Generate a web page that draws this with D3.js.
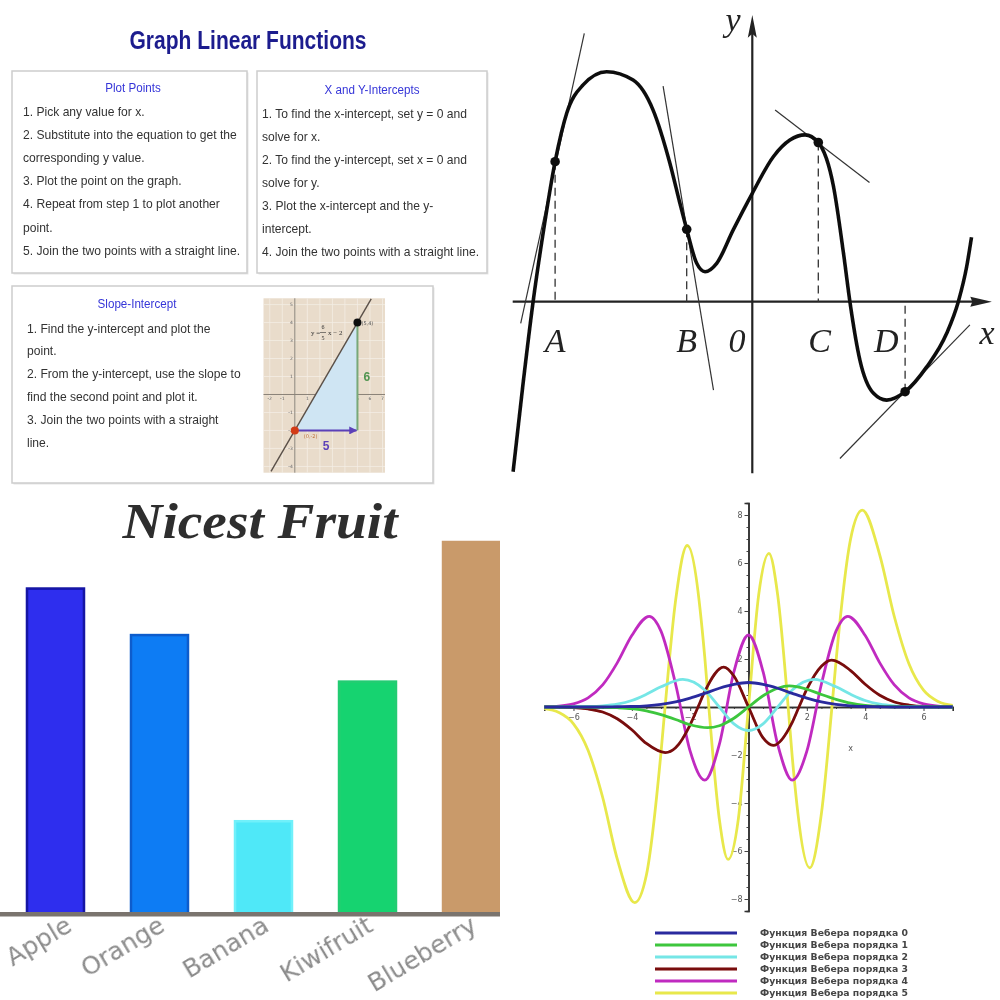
<!DOCTYPE html>
<html>
<head>
<meta charset="utf-8">
<script src="https://cdn.jsdelivr.net/npm/d3@7"></script>
<style>
  body { margin: 0; background: #fff; }
  svg { display: block; }
</style>
</head>
<body>
<svg id="chart" width="1000" height="1000"></svg>
<script>
// ---------- data: top-left infographic ----------
const infoTitle = "Graph Linear Functions";
const boxHeadings = ["Plot Points", "X and Y-Intercepts", "Slope-Intercept"];
const plotPointsLines = [
  "1. Pick any value for x.",
  "2. Substitute into the equation to get the",
  "corresponding y value.",
  "3. Plot the point on the graph.",
  "4. Repeat from step 1 to plot another",
  "point.",
  "5. Join the two points with a straight line."
];
const interceptLines = [
  "1. To find the x-intercept, set y = 0 and",
  "solve for x.",
  "2. To find the y-intercept, set x = 0 and",
  "solve for y.",
  "3. Plot the x-intercept and the y-",
  "intercept.",
  "4. Join the two points with a straight line."
];
const slopeLines = [
  "1. Find the y-intercept and plot the",
  "point.",
  "2. From the y-intercept, use the slope to",
  "find the second point and plot it.",
  "3. Join the two points with a straight",
  "line."
];
// small slope graph (x, y in graph units)
const miniXTicks = [-2, -1, 1, 2, 3, 4, 5, 6, 7];
const miniYTicks = [-4, -3, -2, -1, 1, 2, 3, 4, 5];
const miniLinePts = [[-1.9, -4.28], [6.1, 5.32]];
const miniIntercept = [0, -2];
const miniSecond = [5, 4];
const miniRun = 5, miniRise = 6;

// ---------- data: top-right function sketch ----------
const fCurveX = [-5.98, -5.73, -5.48, -5.23, -4.93, -4.64, -4.23, -3.64, -2.98, -2.48, -2.06, -1.81, -1.64, -1.39, -1.18,
  -0.89, -0.48, 0, 0.53, 0.94, 1.32, 1.65, 2.03, 2.28, 2.44, 2.69, 3.03, 3.36, 3.82, 4.36, 4.86, 5.15, 5.36, 5.48];
const fCurveY = [-4.25, -2.04, 0, 1.71, 3.5, 4.71, 5.42, 5.75, 5.54, 4.79, 3.46, 2.46, 1.81, 0.96, 0.75,
  0.96, 1.79, 2.71, 3.63, 4.04, 4.17, 3.98, 2.88, 1.21, 0, -1.46, -2.29, -2.46, -2.25, -1.63, -0.79, 0, 0.88, 1.61];
const fPointNames = ["A", "B", "C", "D"];
const fPointX = [-4.93, -1.64, 1.65, 3.82];
const fPointY = [3.5, 1.81, 3.98, -2.25];
const fTangents = [
  [[-5.79, -0.54], [-4.2, 6.71]],
  [[-2.23, 5.39], [-0.97, -2.21]],
  [[0.57, 4.79], [2.93, 2.98]],
  [[2.19, -3.92], [5.44, -0.58]]
];
const fAxisLabels = ["A", "B", "0", "C", "D"];
const fAxisLabelX = [-4.93, -1.64, -0.38, 1.68, 3.35];

// ---------- data: bottom-left bar chart ----------
const fruits = ["Apple", "Orange", "Banana", "Kiwifruit", "Blueberry"];
const fruitVotes = [7, 6, 2, 5, 8];
const fruitColors = ["#2f2fee", "#0a7cf4", "#50e8f8", "#19d36f", "#c99a6b"];
const fruitStrokes = ["#1414a4", "#0a5ccc", "#6ff0fa", "#22cc72", "#c99a6b"];

// ---------- data: bottom-right Weber functions ----------
const weberX = [
  [-7, -5, -4.5, -4, -3.5, -3, -2.5, -2, -1.5, -1, -0.5, 0, 0.5, 1, 1.5, 2, 2.5, 3, 3.5, 4, 4.5, 5, 7],
  [-7, -5, -4.5, -4, -3.5, -3, -2.5, -2, -1.4, -1, -0.5, 0, 0.5, 1, 1.4, 2, 2.5, 3, 3.5, 4, 4.5, 5, 7],
  [-7, -6, -5.5, -5, -4.5, -4, -3.5, -3, -2.25, -1.5, -1, -0.5, 0, 0.5, 1, 1.5, 2.25, 3, 3.5, 4, 4.5, 5, 5.5, 6, 7],
  [-7, -6, -5.5, -5, -4.5, -4, -3.5, -2.85, -2.5, -2, -1.73, -1.5, -0.85, -0.5, 0, 0.5, 0.85, 1.5, 1.73, 2, 2.5, 2.85, 3.5, 4, 4.5, 5, 5.5, 6, 7],
  [-7, -6.5, -6, -5.5, -5, -4.5, -4, -3.4, -3, -2.5, -2, -1.5, -1, -0.5, 0, 0.5, 1, 1.5, 2, 2.5, 3, 3.4, 4, 4.5, 5, 5.5, 6, 6.5, 7],
  [-7, -6.5, -6, -5.5, -5, -4.5, -3.9, -3.5, -3, -2.86, -2.5, -2.1, -1.5, -1.36, -1, -0.7, -0.35, 0, 0.35, 0.7, 1, 1.36, 1.5, 2.1, 2.5, 2.86, 3, 3.5, 3.9, 4.5, 5, 5.5, 6, 6.5, 7]
];
const weberY = [
  [0, 0, 0.01, 0.02, 0.05, 0.11, 0.21, 0.37, 0.57, 0.78, 0.94, 1.02, 0.94, 0.78, 0.57, 0.37, 0.21, 0.11, 0.05, 0.02, 0.01, 0, 0],
  [0, -0.01, -0.03, -0.07, -0.16, -0.32, -0.52, -0.74, -0.86, -0.78, -0.47, 0, 0.47, 0.78, 0.88, 0.74, 0.52, 0.32, 0.16, 0.07, 0.03, 0.01, 0],
  [0, 0.01, 0.02, 0.05, 0.12, 0.27, 0.53, 0.84, 1.15, 0.71, 0, -0.7, -0.98, -0.7, 0, 0.71, 1.15, 0.84, 0.53, 0.27, 0.12, 0.05, 0.02, 0.01, 0],
  [0, -0.02, -0.08, -0.21, -0.49, -0.95, -1.52, -1.9, -1.7, -0.74, 0, 0.64, 1.66, 1.29, 0, -1.29, -1.6, -0.64, 0, 0.74, 1.7, 1.95, 1.52, 0.95, 0.49, 0.21, 0.08, 0.02, 0],
  [0.01, 0.04, 0.13, 0.38, 0.92, 1.84, 2.98, 3.78, 3.16, 0.96, -1.84, -3.05, -1.56, 1.47, 3.0, 1.47, -1.56, -3.05, -1.84, 0.96, 3.16, 3.78, 2.98, 1.84, 0.92, 0.38, 0.13, 0.04, 0.01],
  [-0.07, -0.23, -0.7, -1.8, -3.76, -6.33, -8.15, -7.0, -1.9, 0, 4.43, 6.73, 2.09, 0, -4.67, -6.35, -4.68, 0, 4.68, 6.4, 4.67, 0, -2.09, -6.7, -4.43, 0, 1.9, 7.0, 8.2, 6.33, 3.76, 1.8, 0.7, 0.23, 0.07]
];
const weberColors = ["#2a2a9e", "#3cc63c", "#74e6e6", "#780808", "#c02cc0", "#e8e84c"];
const weberNames = [0, 1, 2, 3, 4, 5].map(n => "Функция Вебера порядка " + n);
const weberXTicks = [-6, -4, -2, 2, 4, 6];
const weberYTicks = [-8, -6, -4, -2, 2, 4, 6, 8];

const svg = d3.select("#chart");
const defs = svg.append("defs");
defs.append("filter").attr("id", "soft").append("feGaussianBlur").attr("stdDeviation", 0.7);
defs.append("filter").attr("id", "soft2").append("feGaussianBlur").attr("stdDeviation", 0.45);

// ================= top-left: infographic =================
const tl = svg.append("g").attr("filter", "url(#soft2)");

tl.append("text")
  .attr("x", 248).attr("y", 49)
  .attr("text-anchor", "middle")
  .attr("font-family", "Liberation Sans, Arial, sans-serif")
  .attr("font-weight", "bold")
  .attr("font-size", 26)
  .attr("fill", "#1c1c8e")
  .attr("textLength", 237)
  .attr("lengthAdjust", "spacingAndGlyphs")
  .text(infoTitle);

const boxes = [
  { x0: 12, y0: 71, x1: 247, y1: 273, head: boxHeadings[0], hx: 133, hy: 92, lines: plotPointsLines, lx: 23, ly: 116, step: 23.1 },
  { x0: 257, y0: 71, x1: 487, y1: 273, head: boxHeadings[1], hx: 372, hy: 94, lines: interceptLines, lx: 262, ly: 117.5, step: 23.1 },
  { x0: 12, y0: 286, x1: 433, y1: 483, head: boxHeadings[2], hx: 137, hy: 308, lines: slopeLines, lx: 27, ly: 332.5, step: 22.8 }
];

// measure how much the body text should be squeezed (source font is narrower)
const probe = tl.append("text")
  .attr("font-family", "Liberation Sans, Arial, sans-serif")
  .attr("font-size", 13)
  .text(plotPointsLines[6]);
const squeeze = 217 / probe.node().getComputedTextLength();
probe.remove();

boxes.forEach(b => {
  tl.append("rect")
    .attr("x", b.x0 + 1.5).attr("y", b.y0 + 1.5)
    .attr("width", b.x1 - b.x0).attr("height", b.y1 - b.y0)
    .attr("fill", "#e6e6e6");
  tl.append("rect")
    .attr("x", b.x0).attr("y", b.y0)
    .attr("width", b.x1 - b.x0).attr("height", b.y1 - b.y0)
    .attr("fill", "#fff")
    .attr("stroke", "#cdcdcd")
    .attr("stroke-width", 1.5);
  tl.append("text")
    .attr("x", b.hx).attr("y", b.hy)
    .attr("text-anchor", "middle")
    .attr("font-family", "Liberation Sans, Arial, sans-serif")
    .attr("font-size", 12.5)
    .attr("fill", "#3535d8")
    .text(b.head)
    .each(function () {
      const w = this.getComputedTextLength();
      d3.select(this).attr("textLength", w * squeeze).attr("lengthAdjust", "spacingAndGlyphs");
    });
  tl.selectAll(null)
    .data(b.lines)
    .enter()
    .append("text")
    .attr("x", b.lx)
    .attr("y", (d, i) => b.ly + i * b.step)
    .attr("font-family", "Liberation Sans, Arial, sans-serif")
    .attr("font-size", 13)
    .attr("fill", "#333")
    .text(d => d)
    .each(function () {
      const w = this.getComputedTextLength();
      d3.select(this).attr("textLength", w * squeeze).attr("lengthAdjust", "spacingAndGlyphs");
    });
});

// ---- mini slope graph ----
const mx = d3.scaleLinear().domain([-2.5, 7.2]).range([263.5, 385]);
const my = d3.scaleLinear().domain([-4.35, 5.35]).range([472.7, 298.3]);
const mini = tl.append("g");
mini.append("rect")
  .attr("x", mx(-2.5)).attr("y", my(5.35))
  .attr("width", mx(7.2) - mx(-2.5)).attr("height", my(-4.35) - my(5.35))
  .attr("fill", "#e9dccb");
mini.selectAll("line.gx")
  .data(d3.range(-2, 8))
  .enter().append("line")
  .attr("x1", d => mx(d)).attr("x2", d => mx(d))
  .attr("y1", my(5.35)).attr("y2", my(-4.35))
  .attr("stroke", "#f4ede4").attr("stroke-width", 0.8);
mini.selectAll("line.gy")
  .data(d3.range(-4, 6))
  .enter().append("line")
  .attr("y1", d => my(d)).attr("y2", d => my(d))
  .attr("x1", mx(-2.5)).attr("x2", mx(7.2))
  .attr("stroke", "#f4ede4").attr("stroke-width", 0.8);
mini.append("line")
  .attr("x1", mx(-2.5)).attr("x2", mx(7.2)).attr("y1", my(0)).attr("y2", my(0))
  .attr("stroke", "#8a8278").attr("stroke-width", 1);
mini.append("line")
  .attr("x1", mx(0)).attr("x2", mx(0)).attr("y1", my(5.35)).attr("y2", my(-4.35))
  .attr("stroke", "#8a8278").attr("stroke-width", 1);
mini.selectAll("text.mxt")
  .data(miniXTicks)
  .enter().append("text")
  .attr("x", d => mx(d)).attr("y", my(0) + 6)
  .attr("text-anchor", "middle")
  .attr("font-family", "DejaVu Sans, sans-serif").attr("font-size", 4.5).attr("fill", "#666")
  .text(d => d);
mini.selectAll("text.myt")
  .data(miniYTicks)
  .enter().append("text")
  .attr("x", mx(0) - 2).attr("y", d => my(d) + 1.5)
  .attr("text-anchor", "end")
  .attr("font-family", "DejaVu Sans, sans-serif").attr("font-size", 4.5).attr("fill", "#666")
  .text(d => d);
const corner = [miniIntercept[0] + miniRun, miniIntercept[1]];
mini.append("path")
  .attr("d", d3.line().x(d => mx(d[0])).y(d => my(d[1]))([miniIntercept, miniSecond, corner]) + "Z")
  .attr("fill", "#cfe5f3");
mini.append("line")
  .attr("x1", mx(corner[0])).attr("x2", mx(corner[0]))
  .attr("y1", my(corner[1])).attr("y2", my(corner[1] + miniRise))
  .attr("stroke", "#78a878").attr("stroke-width", 2);
defs.append("marker").attr("id", "purpleArrow")
  .attr("viewBox", "0 0 10 10").attr("refX", 9).attr("refY", 5)
  .attr("markerWidth", 4).attr("markerHeight", 4).attr("orient", "auto")
  .append("path").attr("d", "M0,0L10,5L0,10Z").attr("fill", "#5b3fb8");
mini.append("line")
  .attr("x1", mx(miniIntercept[0])).attr("x2", mx(corner[0]) - 1)
  .attr("y1", my(corner[1])).attr("y2", my(corner[1]))
  .attr("stroke", "#5b3fb8").attr("stroke-width", 2)
  .attr("marker-end", "url(#purpleArrow)");
mini.append("line")
  .attr("x1", mx(miniLinePts[0][0])).attr("y1", my(miniLinePts[0][1]))
  .attr("x2", mx(miniLinePts[1][0])).attr("y2", my(miniLinePts[1][1]))
  .attr("stroke", "#5a5048").attr("stroke-width", 1.4);
mini.append("circle").attr("cx", mx(miniIntercept[0])).attr("cy", my(miniIntercept[1])).attr("r", 4).attr("fill", "#d23a18");
mini.append("circle").attr("cx", mx(miniSecond[0])).attr("cy", my(miniSecond[1])).attr("r", 4).attr("fill", "#111");
mini.append("text").attr("x", mx(miniIntercept[0]) + 9).attr("y", my(miniIntercept[1]) + 8)
  .attr("font-family", "DejaVu Sans, sans-serif").attr("font-size", 5).attr("fill", "#c0703a").text("(0,-2)");
mini.append("text").attr("x", mx(miniSecond[0]) + 4).attr("y", my(miniSecond[1]) + 2)
  .attr("font-family", "DejaVu Sans, sans-serif").attr("font-size", 5).attr("fill", "#555").text("(5,4)");
mini.append("text").attr("x", mx(corner[0]) + 6).attr("y", my(corner[1] + miniRise / 2) + 4)
  .attr("font-family", "Liberation Sans, sans-serif").attr("font-size", 12).attr("font-weight", "bold")
  .attr("fill", "#4f944f").text(miniRise);
mini.append("text").attr("x", mx(miniRun / 2)).attr("y", my(corner[1]) + 20)
  .attr("text-anchor", "middle")
  .attr("font-family", "Liberation Sans, sans-serif").attr("font-size", 12).attr("font-weight", "bold")
  .attr("fill", "#5b3fb8").text(miniRun);
const eq = mini.append("g").attr("font-family", "Liberation Serif, serif").attr("fill", "#333");
eq.append("text").attr("x", 311).attr("y", 335).attr("font-size", 7).text("y =");
eq.append("text").attr("x", 323).attr("y", 329).attr("font-size", 6).attr("text-anchor", "middle").text(miniRise);
eq.append("line").attr("x1", 320).attr("x2", 326).attr("y1", 332.5).attr("y2", 332.5).attr("stroke", "#333").attr("stroke-width", 0.6);
eq.append("text").attr("x", 323).attr("y", 339.5).attr("font-size", 6).attr("text-anchor", "middle").text(miniRun);
eq.append("text").attr("x", 328).attr("y", 335).attr("font-size", 7).text("x − 2");

// ================= top-right: function sketch =================
const fx = d3.scaleLinear().domain([-6, 6]).range([512.3, 992.3]);
const fy = d3.scaleLinear().domain([-4.3, 7.2]).range([473.7, 13.7]);
const tr = svg.append("g").attr("filter", "url(#soft2)");

// axes
tr.append("line")
  .attr("x1", fx(-5.99)).attr("x2", fx(5.6)).attr("y1", fy(0)).attr("y2", fy(0))
  .attr("stroke", "#222").attr("stroke-width", 2.2);
tr.append("line")
  .attr("x1", fx(0)).attr("x2", fx(0)).attr("y1", fy(-4.29)).attr("y2", fy(6.8))
  .attr("stroke", "#222").attr("stroke-width", 2.2);
tr.append("path")
  .attr("d", `M${fx(5.99)},${fy(0)}L${fx(5.45)},${fy(0) - 5}L${fx(5.5)},${fy(0)}L${fx(5.45)},${fy(0) + 5}Z`)
  .attr("fill", "#222");
tr.append("path")
  .attr("d", `M${fx(0)},${fy(7.17)}L${fx(0) - 4.5},${fy(6.6)}L${fx(0)},${fy(6.7)}L${fx(0) + 4.5},${fy(6.6)}Z`)
  .attr("fill", "#222");

// dashed drop lines
tr.selectAll("line.drop")
  .data(fPointX)
  .enter().append("line")
  .attr("x1", d => fx(d)).attr("x2", d => fx(d))
  .attr("y1", (d, i) => fy(fPointY[i])).attr("y2", fy(0))
  .attr("stroke", "#333").attr("stroke-width", 1.3)
  .attr("stroke-dasharray", "8,5");

// tangent lines
tr.selectAll("line.tan")
  .data(fTangents)
  .enter().append("line")
  .attr("x1", d => fx(d[0][0])).attr("y1", d => fy(d[0][1]))
  .attr("x2", d => fx(d[1][0])).attr("y2", d => fy(d[1][1]))
  .attr("stroke", "#333").attr("stroke-width", 1.2);

// the curve
const fLine = d3.line()
  .x(i => fx(fCurveX[i]))
  .y(i => fy(fCurveY[i]))
  .curve(d3.curveMonotoneX);
tr.append("path")
  .attr("d", fLine(d3.range(fCurveX.length)))
  .attr("fill", "none")
  .attr("stroke", "#111")
  .attr("stroke-width", 3.6)
  .attr("stroke-linejoin", "round");

tr.selectAll("circle.pt")
  .data(fPointX)
  .enter().append("circle")
  .attr("cx", d => fx(d)).attr("cy", (d, i) => fy(fPointY[i]))
  .attr("r", 4.8).attr("fill", "#111");

tr.selectAll("text.lab")
  .data(fAxisLabels)
  .enter().append("text")
  .attr("x", (d, i) => fx(fAxisLabelX[i]))
  .attr("y", 352)
  .attr("text-anchor", "middle")
  .attr("font-family", "Liberation Serif, Times New Roman, serif")
  .attr("font-style", "italic")
  .attr("font-size", 34)
  .attr("fill", "#222")
  .text(d => d);
tr.append("text").attr("x", 987).attr("y", 344).attr("text-anchor", "middle")
  .attr("font-family", "Liberation Serif, serif").attr("font-style", "italic").attr("font-size", 34)
  .attr("fill", "#222").text("x");
tr.append("text").attr("x", 733).attr("y", 31).attr("text-anchor", "middle")
  .attr("font-family", "Liberation Serif, serif").attr("font-style", "italic").attr("font-size", 34)
  .attr("fill", "#222").text("y");

// ================= bottom-left: bar chart =================
const bx = d3.scaleBand().domain(fruits).range([0, 527]).paddingInner(0.433).paddingOuter(0.25);
const by = d3.scaleLinear().domain([0, 8]).range([913.3, 541]);
const bl = svg.append("g");
const blClip = defs.append("clipPath").attr("id", "blClip");
blClip.append("rect").attr("x", 0).attr("y", 490).attr("width", 500).attr("height", 510);
const blInner = bl.append("g").attr("clip-path", "url(#blClip)");

blInner.selectAll("rect.bar")
  .data(fruits)
  .enter().append("rect")
  .attr("x", d => bx(d) + 1)
  .attr("y", (d, i) => by(fruitVotes[i]) + 1)
  .attr("width", bx.bandwidth() - 2)
  .attr("height", (d, i) => by(0) - by(fruitVotes[i]) - 1)
  .attr("fill", (d, i) => fruitColors[i])
  .attr("stroke", (d, i) => fruitStrokes[i])
  .attr("stroke-width", 2.5)
  .attr("filter", "url(#soft2)");

blInner.append("line")
  .attr("x1", 0).attr("x2", 500).attr("y1", by(0) + 1).attr("y2", by(0) + 1)
  .attr("stroke", "#7a746e").attr("stroke-width", 4.5);

bl.append("text")
  .attr("x", 260).attr("y", 538)
  .attr("text-anchor", "middle")
  .attr("font-family", "Liberation Serif, Times New Roman, serif")
  .attr("font-style", "italic").attr("font-weight", "bold")
  .attr("font-size", 50)
  .attr("fill", "#2e2e2e")
  .attr("textLength", 275)
  .attr("lengthAdjust", "spacingAndGlyphs")
  .attr("filter", "url(#soft)")
  .text("Nicest Fruit");

// rotated category labels; nudge a label right if its rotated box would run off the left edge
const labelAngle = 31;
const labelSize = 25;
const rad = labelAngle * Math.PI / 180;
bl.selectAll("text.fl")
  .data(fruits)
  .enter().append("text")
  .attr("text-anchor", "end")
  .attr("font-family", "DejaVu Sans, sans-serif")
  .attr("font-size", labelSize)
  .attr("fill", "#8c8c8c")
  .attr("filter", "url(#soft)")
  .text(d => d)
  .each(function (d) {
    const w = this.getComputedTextLength();
    let ax = bx(d) + bx.bandwidth() / 2 + 7;
    const reach = w * Math.cos(rad) + labelSize * 0.75 * Math.sin(rad);
    if (ax - reach < 3) ax = 3 + reach;
    d3.select(this).attr("transform", `translate(${ax},${930}) rotate(${-labelAngle})`);
  });

// ================= bottom-right: Weber functions =================
const wx = d3.scaleLinear().domain([-7, 7]).range([544.3, 952.7]);
const wy = d3.scaleLinear().domain([-8.5, 8.5]).range([911, 503]);
const br = svg.append("g").attr("filter", "url(#soft2)");

const xMinor = br.append("g").attr("transform", `translate(0,${wy(0)})`)
  .call(d3.axisBottom(wx).tickValues(d3.range(-7, 7.01, 0.5)).tickSize(2).tickFormat(""));
const xMajor = br.append("g").attr("transform", `translate(0,${wy(0)})`)
  .call(d3.axisBottom(wx).tickValues(weberXTicks).tickSize(4).tickPadding(3));
const yMinor = br.append("g").attr("transform", `translate(${wx(0)},0)`)
  .call(d3.axisLeft(wy).tickValues(d3.range(-8.5, 8.51, 0.5)).tickSize(2).tickFormat(""));
const yMajor = br.append("g").attr("transform", `translate(${wx(0)},0)`)
  .call(d3.axisLeft(wy).tickValues(weberYTicks).tickSize(4).tickPadding(2));
[xMinor, xMajor, yMinor, yMajor].forEach(g => {
  g.select(".domain").attr("stroke", "#333").attr("stroke-width", 1.6);
  g.selectAll(".tick line").attr("stroke", "#444");
  g.selectAll(".tick text").attr("font-family", "DejaVu Sans, sans-serif").attr("font-size", 8).attr("fill", "#555");
});
br.append("text").attr("x", wx(3.5)).attr("y", wy(-1.85))
  .attr("text-anchor", "middle")
  .attr("font-family", "DejaVu Sans, sans-serif").attr("font-size", 8).attr("fill", "#555").text("x");

const wLine = d3.line().curve(d3.curveMonotoneX);
[5, 4, 3, 2, 1, 0].forEach(k => {
  const pts = weberX[k].map((x, i) => [wx(x), wy(weberY[k][i])]);
  br.append("path")
    .attr("d", wLine(pts))
    .attr("fill", "none")
    .attr("stroke", weberColors[k])
    .attr("stroke-width", 2.8)
    .attr("stroke-linejoin", "round");
});

// legend
const leg = br.append("g");
leg.selectAll("line")
  .data(weberNames)
  .enter().append("line")
  .attr("x1", 655).attr("x2", 737)
  .attr("y1", (d, i) => 933 + i * 12).attr("y2", (d, i) => 933 + i * 12)
  .attr("stroke", (d, i) => weberColors[i])
  .attr("stroke-width", 3);
leg.selectAll("text")
  .data(weberNames)
  .enter().append("text")
  .attr("x", 760).attr("y", (d, i) => 936 + i * 12)
  .attr("font-family", "DejaVu Sans, sans-serif")
  .attr("font-size", 9)
  .attr("font-weight", "bold")
  .attr("fill", "#444")
  .attr("textLength", 148)
  .attr("lengthAdjust", "spacingAndGlyphs")
  .text(d => d);
</script>
</body>
</html>
